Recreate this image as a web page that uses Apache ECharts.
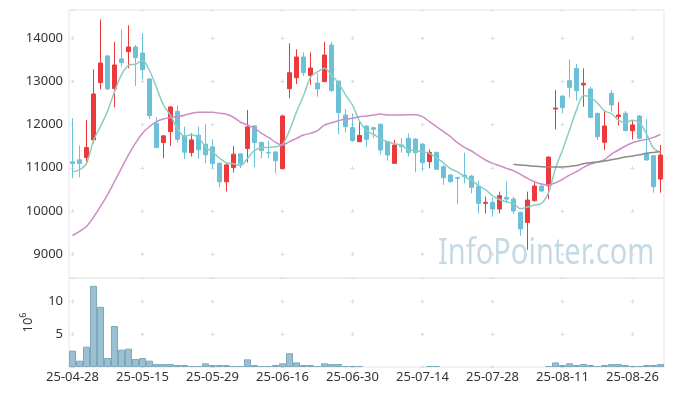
<!DOCTYPE html>
<html><head><meta charset="utf-8">
<script src="https://cdn.jsdelivr.net/npm/echarts@6/dist/echarts.min.js"></script>
<style>html,body{margin:0;padding:0;background:#fff}#c{width:673px;height:396px}</style>
</head><body><div id="c"></div>
<script>
const dates = ['25-04-28','25-04-29','25-04-30','25-05-02','25-05-07','25-05-08','25-05-09','25-05-12','25-05-13','25-05-14',
'25-05-15','25-05-16','25-05-19','25-05-20','25-05-21','25-05-22','25-05-23','25-05-26','25-05-27','25-05-28',
'25-05-29','25-05-30','25-06-02','25-06-04','25-06-05','25-06-09','25-06-10','25-06-11','25-06-12','25-06-13',
'25-06-16','25-06-17','25-06-18','25-06-19','25-06-20','25-06-23','25-06-24','25-06-25','25-06-26','25-06-27',
'25-06-30','25-07-01','25-07-02','25-07-03','25-07-04','25-07-07','25-07-08','25-07-09','25-07-10','25-07-11',
'25-07-14','25-07-15','25-07-16','25-07-17','25-07-18','25-07-21','25-07-22','25-07-23','25-07-24','25-07-25',
'25-07-28','25-07-29','25-07-30','25-07-31','25-08-01','25-08-04','25-08-05','25-08-06','25-08-07','25-08-08',
'25-08-11','25-08-12','25-08-13','25-08-14','25-08-18','25-08-19','25-08-20','25-08-21','25-08-22','25-08-25',
'25-08-26','25-08-27','25-08-28','25-08-29','25-09-01'];

const open = [11137,11183,11237,11645,12973,13591,12834,13521,13691,13799,
13660,13058,12032,11584,11839,12308,11739,11353,11754,11546,
11484,11106,10674,11004,11322,11446,11970,11589,11357,11365,
10978,12832,13087,13567,13134,12964,12995,13845,13010,12222,
11929,11604,11967,11929,12006,11604,11102,11527,11682,11666,
11550,11140,11357,11025,10831,10777,10831,10808,10561,10175,
10198,10043,10314,10275,9966,9734,10236,10576,10584,12361,
12663,13018,13304,12918,12825,12261,11589,12724,12184,12261,
11859,12199,11333,11279,10738];
const close = [11098,11098,11468,12710,13428,12826,13382,13436,13799,13552,
13274,12209,11469,11739,12410,11661,11361,11646,11415,11299,
11098,10674,11067,11315,11090,11947,11584,11396,11342,11164,
12199,13203,13567,13203,13312,12825,13613,12786,12276,11952,
11628,11751,11658,11890,11411,11295,11527,11489,11349,11349,
11117,11357,10963,10770,10677,10754,10793,10546,10175,10198,
10043,10352,10275,9997,9580,10252,10576,10460,11249,12384,
12392,12863,12786,12956,12168,11720,11967,12454,12222,11859,
11991,11681,11179,10561,11295];
const low = [10758,10781,11121,11569,12819,12803,12402,13343,13305,12896,
13058,12132,11453,11222,11507,11584,11198,11260,11206,11106,
10990,10550,10450,10890,10990,11121,11013,11218,11218,10871,
10963,12608,12941,13126,12918,12647,12990,12763,11774,11813,
11604,11600,11488,11681,11311,11164,11087,11349,11257,10894,
10925,10986,10947,10600,10661,10160,10638,10406,9943,9943,
9866,9943,10175,9928,9425,9093,10213,10445,10268,11890,
12261,12632,12554,12415,12145,11643,11411,12299,11975,11850,
11658,11658,11170,10422,10422];
const high = [12148,11515,12109,13281,14439,13613,13922,14208,14300,13845,
14115,13073,12171,11750,12430,12440,11955,11800,11955,12017,
11662,11121,11075,11507,11330,12340,11980,11595,11628,11388,
12229,13883,13745,13675,13675,13188,13922,13922,13015,12361,
12261,12068,11972,11952,12029,11610,11643,11682,11798,11680,
11565,11426,11370,11063,10850,10785,11349,10830,10700,10329,
10306,10445,10677,10329,9982,10445,10661,10590,11255,12802,
12670,13513,13404,13304,12879,12275,12314,12802,12516,12314,
12083,12222,12129,11279,11527];

// volume in millions of shares
const volume = [2.5,0.97,3.1,12.4,9.2,1.37,6.26,2.65,2.8,1.22,
1.37,0.97,0.46,0.46,0.46,0.3,0.3,0.15,0.15,0.56,
0.3,0.3,0.3,0.15,0.15,1.17,0.3,0.15,0.15,0.3,
0.56,2.1,0.7,0.3,0.3,0.15,0.56,0.46,0.46,0.15,
0.15,0.15,0,0,0,0,0,0,0,0,
0,0.15,0.15,0,0,0,0,0,0,0,
0,0,0,0,0,0,0,0,0.15,0.7,
0.3,0.56,0.3,0.46,0.3,0.15,0.3,0.46,0.46,0.3,
0.15,0.15,0.3,0.3,0.46];

const ma5 = [10905,10950,11100,11630,11960,12306,12763,13156,13374,13399,
13489,13254,12861,12449,12220,11898,11728,11763,11699,11476,
11364,11226,11111,11091,11049,11219,11401,11466,11472,11487,
11537,11861,12295,12667,13097,13222,13304,13148,12962,12690,
12451,12079,11853,11776,11668,11601,11556,11522,11414,11402,
11366,11332,11227,11111,10977,10904,10791,10708,10589,10493,
10351,10263,10209,10173,10049,10091,10136,10173,10423,10984,
11412,11870,12335,12676,12633,12499,12319,12253,12106,12044,
12099,12041,11786,11454,11360];
const ma20 = [9430,9524,9640,9856,10103,10373,10682,10990,11299,11569,
11800,11955,12070,12132,12163,12186,12217,12263,12286,12286,
12286,12263,12240,12170,12055,11990,11916,11797,11704,11588,
11527,11604,11681,11758,11797,11859,11990,12044,12091,12129,
12145,12184,12199,12222,12245,12222,12222,12222,12230,12230,
12184,12068,11952,11836,11720,11581,11470,11388,11280,11179,
11102,11048,10986,10932,10847,10754,10677,10623,10600,10654,
10731,10831,10909,11009,11087,11130,11190,11318,11411,11504,
11581,11627,11658,11704,11774];
const ma60 = [null,null,null,null,null,null,null,null,null,null,
null,null,null,null,null,null,null,null,null,null,
null,null,null,null,null,null,null,null,null,null,
null,null,null,null,null,null,null,null,null,null,
null,null,null,null,null,null,null,null,null,null,
null,null,null,null,null,null,null,null,null,null,
null,null,null,11080,11065,11050,11035,11022,11017,11015,
11017,11030,11050,11095,11115,11135,11158,11185,11215,11250,
11270,11300,11335,11355,11372];

const candles = dates.map((d, i) => [open[i], close[i], low[i], high[i]]);
const volumeData = volume.map(v => (v > 0 ? v : '-'));

const FONT = 'Noto Sans';
const GRID_L = 69, GRID_R = 9;
const band = (673 - GRID_L - GRID_R) / dates.length;
const hPeriod = band * 10;
const crossColor = '#dddddd';
const hSplit = {show: true, lineStyle: {color: crossColor, width: 1, type: [4, hPeriod - 4], dashOffset: hPeriod - (band / 2 - 2)}};
const plain = v => String(Math.round(v));

const chart = echarts.init(document.getElementById('c'), null, {renderer: 'canvas'});
chart.setOption({
  animation: false,
  backgroundColor: '#fff',
  textStyle: {fontFamily: FONT},
  grid: [
    {left: GRID_L, right: GRID_R, top: 10, height: 268, show: true, borderColor: '#e6e6e6', borderWidth: 1, backgroundColor: 'transparent'},
    {left: GRID_L, right: GRID_R, top: 278, height: 89, show: true, borderColor: '#e6e6e6', borderWidth: 1, backgroundColor: 'transparent'}
  ],
  graphic: [{
    type: 'text', x: 438, y: 253.5, scaleX: 0.806, z: 0, silent: true,
    style: {text: 'InfoPointer.com', font: '36px "Noto Sans"', fill: 'rgba(184,208,222,0.8)', align: 'left', verticalAlign: 'middle'}
  }],
  xAxis: [
    {gridIndex: 0, type: 'category', data: dates, boundaryGap: true,
     axisLine: {show: false}, axisTick: {show: false}, axisLabel: {show: false},
     splitLine: {show: true, interval: 9, alignWithLabel: true,
       lineStyle: {color: crossColor, width: 1, type: [4, 43.15 - 4], dashOffset: 43.15 - 26.3}}},
    {gridIndex: 1, type: 'category', data: dates, boundaryGap: true,
     axisLine: {show: false}, axisTick: {show: false},
     axisLabel: {show: true, interval: 9, color: '#333', fontSize: 13, fontFamily: FONT, margin: 4},
     splitLine: {show: true, interval: 9, alignWithLabel: true,
       lineStyle: {color: crossColor, width: 1, type: [4, 32.72 - 4], dashOffset: 32.72 - 21.56}}}
  ],
  yAxis: [
    {gridIndex: 0, type: 'value', min: 8445, max: 14656,
     axisLine: {show: false}, axisTick: {show: false},
     axisLabel: {showMinLabel: false, showMaxLabel: false, formatter: plain, color: '#333', fontSize: 13, fontFamily: FONT, margin: 6},
     splitLine: hSplit},
    {gridIndex: 1, type: 'value', min: 0, max: 13.6, interval: 5,
     name: '10{s|6}', nameLocation: 'middle', nameRotate: 90, nameGap: 24,
     nameTextStyle: {color: '#333', fontSize: 13, fontFamily: FONT, lineHeight: 18,
       rich: {s: {fontSize: 9, fontFamily: FONT, color: '#333', verticalAlign: 'top', lineHeight: 18}}},
     axisLine: {show: false}, axisTick: {show: false},
     axisLabel: {showMinLabel: false, showMaxLabel: false, formatter: plain, color: '#333', fontSize: 13, fontFamily: FONT, margin: 6},
     splitLine: hSplit}
  ],
  series: [
    {type: 'candlestick', xAxisIndex: 0, yAxisIndex: 0, data: candles, barWidth: '72%',
     itemStyle: {color: '#ec3a3c', color0: '#6cc1d8', borderColor: '#ec3a3c', borderColor0: '#6cc1d8', borderWidth: 1}},
    {type: 'line', name: 'MA5', xAxisIndex: 0, yAxisIndex: 0, data: ma5, showSymbol: false, smooth: 0.3,
     lineStyle: {color: '#8ccdbe', width: 1.5}, z: 3},
    {type: 'line', name: 'MA20', xAxisIndex: 0, yAxisIndex: 0, data: ma20, showSymbol: false, smooth: 0.3,
     lineStyle: {color: '#cc8cc8', width: 1.5}, z: 3},
    {type: 'line', name: 'MA60', xAxisIndex: 0, yAxisIndex: 0, data: ma60, showSymbol: false, smooth: 0.3,
     lineStyle: {color: '#8a8a8a', width: 1.5}, z: 3},
    {type: 'bar', name: 'Volume', xAxisIndex: 1, yAxisIndex: 1, data: volumeData, barWidth: '100%', barCategoryGap: '0%',
     itemStyle: {color: '#9bc0d1', borderColor: '#7da7bb', borderWidth: 1}}
  ]
});
</script>
</body></html>
